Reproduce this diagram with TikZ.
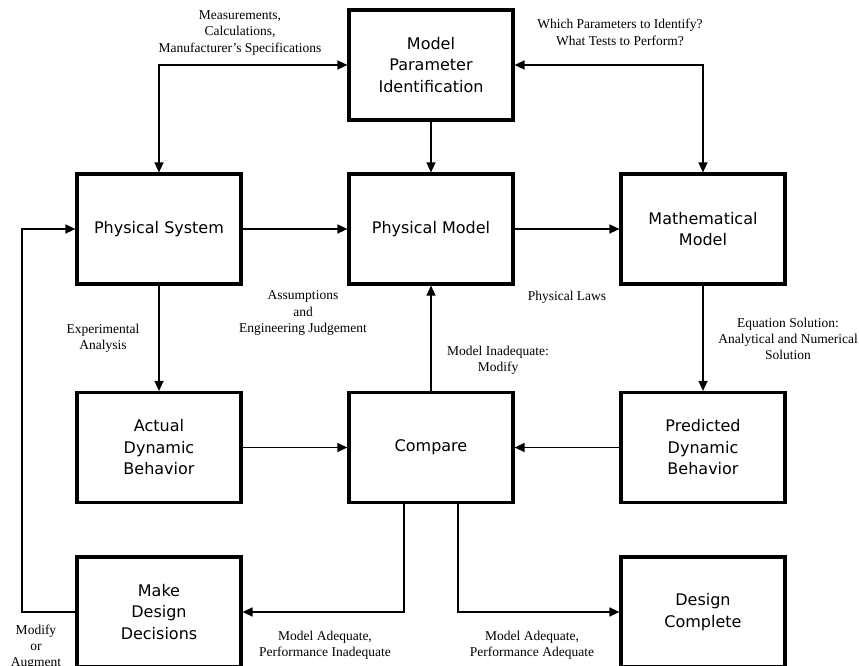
\documentclass[tikz,border=0pt]{standalone}
\usepackage{fontspec}
\setmainfont{Liberation Serif}
\newfontfamily\boxfont{DejaVu Sans}
\usetikzlibrary{arrows.meta}
\begin{document}
\begin{tikzpicture}[x=1pt,y=-1pt,
 blk/.style={draw, line width=3.2pt, minimum width=164pt, minimum height=110pt, align=center, font=\boxfont\fontsize{16}{21.5}\selectfont, inner sep=0pt},
 conn/.style={line width=1.4pt, -{Triangle[length=10pt,width=9pt]}},
 biconn/.style={line width=1.4pt, {Triangle[length=10pt,width=9pt]}-{Triangle[length=10pt,width=9pt]}},
 lbl/.style={align=center, font=\fontsize{13.5}{16.3}\selectfont, inner sep=0pt}]
\useasboundingbox (0,0) rectangle (859,666);
\node[blk] (mpi) at (431,65) {Model\\Parameter\\Identification};
\node[blk] (ps) at (159,229) {Physical System};
\node[blk] (pm) at (431,229) {Physical Model};
\node[blk] (mm) at (703,229) {Mathematical\\Model};
\node[blk] (adb) at (159,447.5) {Actual\\Dynamic\\Behavior};
\node[blk] (cmp) at (431,447.5) {Compare};
\node[blk] (pdb) at (703,447.5) {Predicted\\Dynamic\\Behavior};
\node[blk] (mdd) at (159,612) {Make\\Design\\Decisions};
\node[blk] (dc) at (703,612) {Design\\Complete};
\coordinate (lc) at (22,229);

\draw[biconn] (ps.north) |- (mpi.west);
\draw[biconn] (mm.north) |- (mpi.east);
\draw[conn] (mpi) -- (pm);
\draw[conn] (ps) -- (pm);
\draw[conn] (pm) -- (mm);
\draw[conn] (ps) -- (adb);
\draw[conn] (cmp) -- (pm);
\draw[conn] (mm) -- (pdb);
\draw[conn] (adb) -- (cmp);
\draw[conn] (pdb) -- (cmp);
\draw[conn] ([xshift=-27pt]cmp.south) |- (mdd.east);
\draw[conn] ([xshift=27pt]cmp.south) |- (dc.west);
\draw[conn] (mdd.west) -| (lc) -- (ps.west);

\node[lbl] (l1) at (240,33) {Measurements,\\Calculations,\\Manufacturer's Specifications};
\node[lbl] (l2) at (620,32.5) {Which Parameters to Identify?\\What Tests to Perform?};
\node[lbl] (l3) at (303,313) {Assumptions\\and\\Engineering Judgement};
\node[lbl] (l4) at (103,338) {Experimental\\Analysis};
\node[lbl] (l5) at (567,297) {Physical Laws};
\node[lbl] (l6) at (498,360) {Model Inadequate:\\Modify};
\node[lbl] (l7) at (788,339) {Equation Solution:\\Analytical and Numerical\\Solution};
\node[lbl] (l8) at (325,645.5) {Model Adequate,\\Performance Inadequate};
\node[lbl] (l9) at (532,645.5) {Model Adequate,\\Performance Adequate};
\node[lbl] (l10) at (36,647) {Modify\\or\\Augment};
\end{tikzpicture}
\end{document}
